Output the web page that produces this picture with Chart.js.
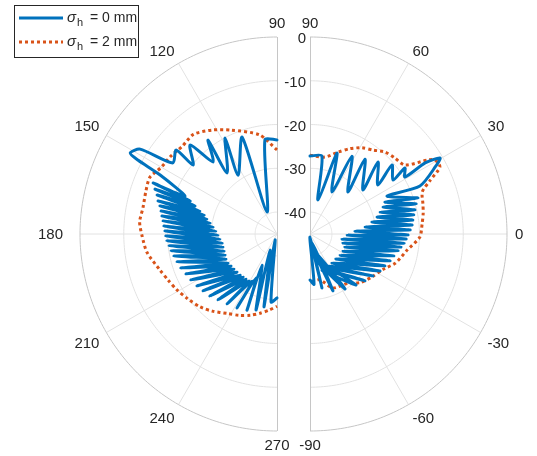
<!DOCTYPE html>
<html>
<head>
<meta charset="utf-8">
<script src="https://cdn.jsdelivr.net/npm/chart.js@4/dist/chart.umd.min.js"></script>
<style>
  html, body { margin: 0; padding: 0; background: #ffffff; }
  #wrap { position: relative; width: 537px; height: 456px; }
</style>
</head>
<body>
<div id="wrap"><canvas id="chart" width="537" height="456"></canvas></div>
<script>
// Radial axis (dB) and angular ticks of the two half-polar panels
const LEVEL_MIN = -45;
const LEVEL_MAX = 0;
const radialTicks = [-40, -30, -20, -10, 0];
const leftAngleTicks = [90, 120, 150, 180, 210, 240, 270];
const rightAngleTicks = [-90, -60, -30, 0, 30, 60, 90];

// sigma_h = 0 mm, panel 90..270 deg (angle in deg, level in dB)
const blueLeftAngle = [90, 97.3, 114.4, 109.8, 123.5, 118.4, 129.3, 126.3, 131.6, 134.3, 140.6, 140.2, 145.7,
  148.2, 151.1, 152, 153.2,
  157.6, 157.6, 159.2, 159.8, 161.1, 162.0, 163.4, 164.5, 165.4, 166.5, 167.9, 168.8, 170.7, 171.1, 173.8, 173.5,
  177.2, 176.0, 181.0, 178.5, 185.0, 181.0, 189.3, 183.6, 193.5, 186.3, 197.8, 189.1, 202.0, 192.1, 206.1, 195.6,
  210.6, 199.5, 214.8, 203.7, 219.1, 208.1, 223.5, 213.0, 228.1, 217.6, 231.7, 222.8, 235.4, 228.2, 239.2, 234.5,
  242.0, 241.6, 244.5, 248.5, 244.2, 254.6, 246.4, 259.9, 251.6, 265.0, 270];
const blueLeftLevel = [-23.5, -23.3, -39.5, -21.5, -28.9, -20.1, -27.0, -18.4, -23.0, -16.6, -20.2, -15.0, -16.2,
  -8.2, -6.7, -9.0, -15.1,
  -22.3, -14.4, -23.8, -15.3, -25.2, -16.2, -26.6, -16.8, -27.8, -17.5, -28.6, -18.0, -29.5, -18.4, -30.3, -18.8,
  -31.0, -19.1, -31.5, -19.4, -31.9, -19.6, -32.3, -19.8, -32.3, -20.2, -32.3, -20.5, -32.2, -20.9, -32.0, -21.3,
  -32.0, -21.7, -32.2, -22.3, -32.3, -22.7, -32.4, -23.2, -32.4, -23.7, -32.5, -24.1, -32.5, -24.8, -32.5, -25.4,
  -32.8, -25.8, -33.9, -26.3, -37.1, -27.0, -41.0, -28.1, -43.6, -29.4, -30.4];

// sigma_h = 0 mm, panel -90..90 deg
const blueRightAngle = [90, 81.3, 76.8, 71.6, 62.4, 61.7, 47.9, 53.7, 39.7, 46.6, 35.8, 40.1, 33.0, 34.8, 31.0,
  31.7, 30.3, 28.4, 23.6,
  26.3, 18.4, 23.1, 15.8, 20.3, 12.9, 17.4, 10.4, 14.2, 7.7, 11.0, 5.0, 7.3, 2.3, 3.8, -0.6, -1.5, -3.0,
  -8.9, -5.5, -15.3, -8.1, -20.4, -10.9, -27.3, -14.7, -35, -18.6, -43.9, -23.1, -52.8, -27.9, -60.6, -33.7,
  -66.2, -40.5, -71.6, -47.9, -74.1, -57.5, -74.5, -68.0, -77.5, -77.5, -90, -85.4, -90];
const blueRightLevel = [-27.2, -27.0, -37.0, -25.5, -34.2, -24.8, -32.1, -23.8, -29.3, -22.4, -25.9, -20.5, -22.4, -18.6, -19.7,
  -14.1, -10.6, -12.3, -17.6,
  -25.4, -19.0, -26.4, -19.8, -27.2, -20.4, -28.2, -20.9, -29.2, -21.3, -30.6, -21.6, -32.3, -22.1, -34.7, -22.6, -36.5, -23.0,
  -37.6, -23.4, -37.2, -24.0, -36.5, -24.5, -36.5, -25.2, -36.6, -25.7, -36.8, -26.4, -36.7, -26.9, -36.6, -27.7,
  -36.5, -28.5, -36.3, -29.3, -38.4, -30.1, -40.7, -31.0, -42.9, -32.4, -44.3, -33.5, -34.5];

// sigma_h = 2 mm, panel 90..270 deg
const redLeftAngle = [90, 100, 114, 122, 130, 137, 144, 150, 156, 162, 169, 175, 181, 188, 197, 203, 209, 216, 223.5, 230, 238, 245, 252, 258, 264, 270];
const redLeftLevel = [-25.8, -22, -19, -17, -15.3, -15.5, -14.9, -14.5, -13.2, -13.5, -13.8, -13.5, -14.2, -15, -17, -18, -18.8, -19.8, -20.8, -22, -23.6, -24.5, -25.5, -26.5, -27.5, -28.5];

// sigma_h = 2 mm, panel -90..90 deg
const redRightAngle = [90, 79, 71, 65, 59, 53, 47.5, 42, 36, 32, 30.6, 27.3, 24, 20.6, 15, 10.5, 5, -1.6, -9.4, -18.8, -26, -34.7, -44, -52, -67, -78, -90];
const redRightLevel = [-27, -27.1, -25.2, -23.5, -22, -21, -19.6, -19, -18.2, -13, -11.8, -11.6, -15, -17.6, -18.3, -18.7, -19.3, -19.9, -22.5, -24.4, -26.5, -27.8, -29, -30.8, -31.6, -34.3, -34];

// Canvas layout of the two panels (pixels in the chart's value space)
const W = 537, H = 456;
const CY = 234, CX_LEFT = 277, CX_RIGHT = 310, RADIUS = 197;
const LABEL_PAD = 8;
const labelNudge = { 180: -9 };

const BLUE = '#0072BD';
const RED = '#D95319';
const TEXT = '#262626';
const FONT = '"Liberation Sans", Arial, Helvetica, sans-serif';

function toXY(cx, angleDeg, level) {
  const frac = Math.max(0, (level - LEVEL_MIN) / (LEVEL_MAX - LEVEL_MIN));
  const r = frac * RADIUS;
  const a = angleDeg * Math.PI / 180;
  return { x: cx + r * Math.cos(a), y: CY - r * Math.sin(a) };
}

function series(cx, angles, levels) {
  return angles.map((a, i) => toXY(cx, a, levels[i]));
}

function pix(chart, p) {
  return { x: chart.scales.x.getPixelForValue(p.x), y: chart.scales.y.getPixelForValue(p.y) };
}

function drawHalfGrid(chart, ctx, cx, a0, a1, ticks) {
  ctx.save();
  ctx.lineWidth = 1;
  // inner rings
  ctx.strokeStyle = '#e2e2e2';
  radialTicks.forEach(t => {
    if (t === LEVEL_MAX) return;
    ctx.beginPath();
    for (let a = a0; a <= a1 + 1e-9; a += 1) {
      const p = pix(chart, toXY(cx, a, t));
      if (a === a0) ctx.moveTo(p.x, p.y); else ctx.lineTo(p.x, p.y);
    }
    ctx.stroke();
  });
  // spokes
  ticks.forEach(t => {
    if (t === a0 || t === a1) return;
    const c = pix(chart, toXY(cx, t, LEVEL_MIN));
    const e = pix(chart, toXY(cx, t, LEVEL_MAX));
    ctx.beginPath(); ctx.moveTo(c.x, c.y); ctx.lineTo(e.x, e.y); ctx.stroke();
  });
  // outer ring and straight edge
  ctx.strokeStyle = '#c6c6c6';
  ctx.beginPath();
  for (let a = a0; a <= a1 + 1e-9; a += 1) {
    const p = pix(chart, toXY(cx, a, LEVEL_MAX));
    if (a === a0) ctx.moveTo(p.x, p.y); else ctx.lineTo(p.x, p.y);
  }
  ctx.stroke();
  const top = pix(chart, toXY(cx, 90, LEVEL_MAX));
  const bot = pix(chart, toXY(cx, -90, LEVEL_MAX));
  ctx.beginPath();
  ctx.moveTo(Math.round(top.x) + 0.5, top.y);
  ctx.lineTo(Math.round(bot.x) + 0.5, bot.y);
  ctx.stroke();
  ctx.restore();
}

function drawAngleLabels(chart, ctx, cx, ticks) {
  ctx.save();
  ctx.font = '15px ' + FONT;
  ctx.fillStyle = TEXT;
  ctx.textAlign = 'center';
  ctx.textBaseline = 'middle';
  ticks.forEach(t => {
    const label = String(t);
    const w = ctx.measureText(label).width;
    const a = t * Math.PI / 180;
    const c = Math.cos(a), s = Math.sin(a);
    const sx = Math.abs(c) < 1e-6 ? 0 : Math.sign(c);
    const sy = Math.abs(s) < 1e-6 ? 0 : Math.sign(s);
    const r = RADIUS + LABEL_PAD;
    const p = {
      x: cx + r * c + sx * w / 2 + (labelNudge[t] || 0),
      y: CY - r * s - sy * 6
    };
    const q = pix(chart, p);
    ctx.fillText(label, q.x, q.y + 1);
  });
  ctx.restore();
}

const polarGrid = {
  id: 'polarGrid',
  beforeDatasetsDraw(chart) {
    const ctx = chart.ctx;
    drawHalfGrid(chart, ctx, CX_LEFT, 90, 270, leftAngleTicks);
    drawHalfGrid(chart, ctx, CX_RIGHT, -90, 90, rightAngleTicks);
  },
  afterDatasetsDraw(chart) {
    const ctx = chart.ctx;
    drawAngleLabels(chart, ctx, CX_LEFT, leftAngleTicks);
    drawAngleLabels(chart, ctx, CX_RIGHT, rightAngleTicks);
    // radial tick labels beside the right panel's vertical edge
    ctx.save();
    ctx.font = '15px ' + FONT;
    ctx.fillStyle = TEXT;
    ctx.textAlign = 'right';
    ctx.textBaseline = 'middle';
    radialTicks.forEach(t => {
      const p = pix(chart, toXY(CX_RIGHT, 90, t));
      ctx.fillText(String(t), p.x - 4, p.y + 2);
    });
    ctx.restore();
    // legend
    ctx.save();
    ctx.fillStyle = '#ffffff';
    ctx.fillRect(14.5, 5.5, 124, 52);
    ctx.strokeStyle = '#262626';
    ctx.lineWidth = 1;
    ctx.strokeRect(14.5, 5.5, 124, 52);
    ctx.lineWidth = 3;
    ctx.strokeStyle = BLUE;
    ctx.beginPath(); ctx.moveTo(19, 18); ctx.lineTo(63, 18); ctx.stroke();
    ctx.strokeStyle = RED;
    ctx.setLineDash([3, 3]);
    ctx.beginPath(); ctx.moveTo(19, 42); ctx.lineTo(63, 42); ctx.stroke();
    ctx.setLineDash([]);
    ctx.fillStyle = TEXT;
    ctx.textBaseline = 'alphabetic';
    [[22, '= 0 mm'], [46, '= 2 mm']].forEach(([y, txt]) => {
      ctx.font = 'italic 15px ' + FONT;
      ctx.fillText('\u03C3', 67, y);
      ctx.font = '11px ' + FONT;
      ctx.fillText('h', 77, y + 4);
      ctx.font = '14px ' + FONT;
      ctx.fillText(txt, 90, y);
    });
    ctx.restore();
  }
};

const lineDefaults = { showLine: true, pointRadius: 0, borderJoinStyle: 'round', borderCapStyle: 'round', tension: 0.25, fill: false };

new Chart(document.getElementById('chart'), {
  type: 'scatter',
  data: {
    datasets: [
      Object.assign({ label: 'σh = 0 mm (90–270)', data: series(CX_LEFT, blueLeftAngle, blueLeftLevel), borderColor: BLUE, borderWidth: 3 }, lineDefaults),
      Object.assign({ label: 'σh = 0 mm (−90–90)', data: series(CX_RIGHT, blueRightAngle, blueRightLevel), borderColor: BLUE, borderWidth: 3 }, lineDefaults),
      Object.assign({ label: 'σh = 2 mm (90–270)', data: series(CX_LEFT, redLeftAngle, redLeftLevel), borderColor: RED, borderWidth: 3, borderDash: [3, 3] }, lineDefaults, { borderCapStyle: 'butt' }),
      Object.assign({ label: 'σh = 2 mm (−90–90)', data: series(CX_RIGHT, redRightAngle, redRightLevel), borderColor: RED, borderWidth: 3, borderDash: [3, 3] }, lineDefaults, { borderCapStyle: 'butt' })
    ]
  },
  options: {
    responsive: false,
    animation: false,
    devicePixelRatio: 1,
    layout: { padding: 0 },
    scales: {
      x: { type: 'linear', min: 0, max: W, display: false },
      y: { type: 'linear', min: 0, max: H, reverse: true, display: false }
    },
    plugins: { legend: { display: false }, tooltip: { enabled: false } }
  },
  plugins: [polarGrid]
});
</script>
</body>
</html>
